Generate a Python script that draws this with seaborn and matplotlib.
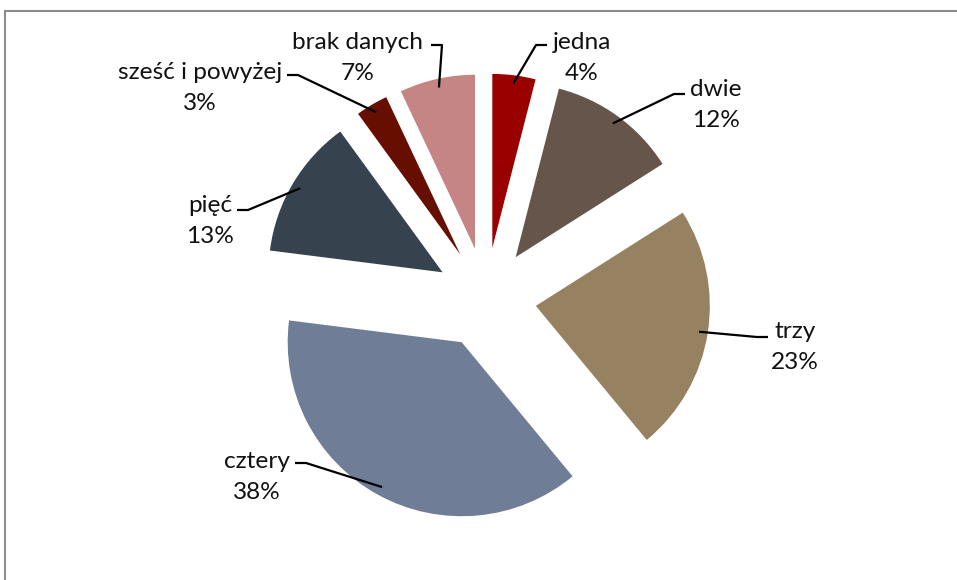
import numpy as np
import matplotlib
matplotlib.use("Agg")
import matplotlib.pyplot as plt
import seaborn as sns
from matplotlib.lines import Line2D

categories = ["jedna", "dwie", "trzy", "cztery", "pięć", "sześć i powyżej", "brak danych"]
shares = [4, 12, 23, 38, 13, 3, 7]
pct_labels = ["4%", "12%", "23%", "38%", "13%", "3%", "7%"]
colors = ["#990000", "#66554B", "#968260", "#707D96", "#37424F", "#660F00", "#C48584"]

sns.set_theme(style="white")
plt.rcParams['font.family'] = ['Lato', 'DejaVu Sans']

W, H = 957, 580
fig = plt.figure(figsize=(W / 100, H / 100), dpi=100)
ax = fig.add_axes([0, 0, 1, 1])
CX, CY, R = 486, 298, 174  # pie centre and radius in pixels (layout)


def px2d(x, y):
    return ((x - CX) / R, (CY - y) / R)


pal = sns.color_palette(colors)
wedges, _ = ax.pie(shares, colors=pal, startangle=90, counterclock=False,
                   explode=[0.29] * len(shares), radius=1.0,
                   wedgeprops=dict(linewidth=0))
ax.set_xlim(-CX / R, (W - CX) / R)
ax.set_ylim(-(H - CY) / R, CY / R)
ax.set_aspect('auto')
ax.axis('off')

# label layout (pixel positions of label block centres and leader ends)
text_pos_px = [(582, 58), (716, 105), (795, 347), (257, 477), (210, 221), (200, 88), (358, 58)]
leader_end_px = [(547, 45), (685, 94), (768, 337), (295, 463), (237, 210), (287, 75), (431, 45)]

for w, cat, pct, tp, le in zip(wedges, categories, pct_labels, text_pos_px, leader_end_px):
    mid = np.deg2rad((w.theta1 + w.theta2) / 2)
    cx, cy = w.center
    ax_, ay_ = cx + 0.95 * w.r * np.cos(mid), cy + 0.95 * w.r * np.sin(mid)
    ex, ey = px2d(*le)
    side = 1 if le[0] > CX else -1
    bx, by = px2d(le[0] - side * 11, le[1])
    ax.plot([ax_, bx, ex], [ay_, by, ey], color='black', lw=1.6, solid_capstyle='butt')
    tx, ty = px2d(*tp)
    ax.text(tx, ty, f"{cat}\n{pct}", ha='center', va='center', fontsize=17.6,
            linespacing=1.6, color='#111111')

fig.add_artist(Line2D([5 / W, 1], [1 - 11 / H, 1 - 11 / H], transform=fig.transFigure,
                      color='#8c8c8c', lw=1.5))
fig.add_artist(Line2D([5 / W, 5 / W], [0, 1 - 11 / H], transform=fig.transFigure,
                      color='#8c8c8c', lw=1.5))

fig.savefig("out.png", dpi=100, facecolor='white')
